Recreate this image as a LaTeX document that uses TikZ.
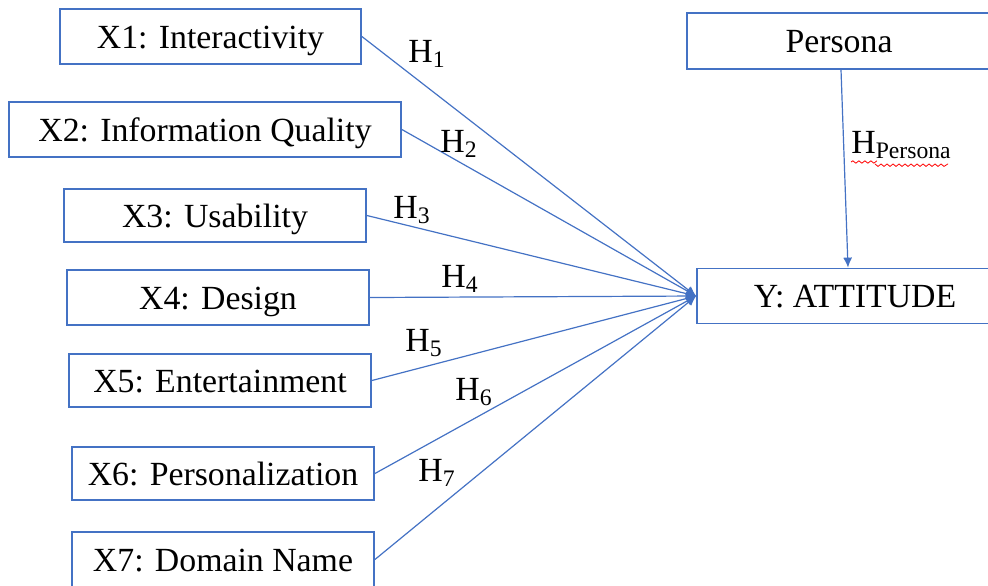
\documentclass[tikz,border=0pt]{standalone}
\usepackage{fontspec}
\setmainfont{Liberation Serif}
\newfontfamily\timesfont{Liberation Serif}
\usetikzlibrary{arrows.meta,decorations.pathmorphing}
\definecolor{officeblue}{RGB}{68,114,196}
\tikzset{
    box/.style={draw=officeblue, line width=0.9pt, rectangle, inner sep=0pt, text height=11.6pt, text depth=0pt, font=\timesfont\fontsize{16.9}{20}\selectfont},
    link/.style={draw=officeblue, line width=0.6pt, -{Latex[length=5pt,width=4.5pt]}},
    hyp/.style={anchor=base west, inner sep=0pt, font=\timesfont\fontsize{16.9}{20}\selectfont}
}

\begin{document}
\begin{tikzpicture}[x=0.5pt,y=-0.5pt]
            \useasboundingbox (0,0) rectangle (988,585);
            % independent variables
            \node[box, minimum width=150.5pt, minimum height=27.5pt] (x1) at (210.5,36.5) {X1: Interactivity};
            \node[box, minimum width=196pt, minimum height=27.5pt] (x2) at (205,129.5) {X2: Information Quality};
            \node[box, minimum width=151pt, minimum height=26.5pt] (x3) at (215,215.5) {X3: Usability};
            \node[box, minimum width=151pt, minimum height=27.5pt] (x4) at (218,297.5) {X4: Design};
            \node[box, minimum width=151pt, minimum height=26.5pt] (x5) at (220,380.5) {X5: Entertainment};
            \node[box, minimum width=151pt, minimum height=26.5pt] (x6) at (223,473.5) {X6: Personalization};
            \node[box, minimum width=151pt, minimum height=27.5pt] (x7) at (223,559.5) {X7: Domain Name};
            % moderator and outcome
            \node[box, minimum width=152pt, minimum height=28pt] (persona) at (839,41) {Persona};
            \node[box, minimum width=158pt, minimum height=27.5pt] (att) at (855,296) {Y: ATTITUDE};
            % paths
            \foreach \i in {1,...,7}
                \draw[link] (x\i.east) -- (att.west);
            \draw[link] ([xshift=1pt]persona.south) -- ([xshift=-3.5pt]att.north);
            % hypothesis labels
            \node[hyp] (h1) at (408,62) {H\textsubscript{1}};
            \node[hyp] (h2) at (440,152) {H\textsubscript{2}};
            \node[hyp] (h3) at (393,218) {H\textsubscript{3}};
            \node[hyp] (h4) at (441,287) {H\textsubscript{4}};
            \node[hyp] (h5) at (405,351) {H\textsubscript{5}};
            \node[hyp] (h6) at (455,400) {H\textsubscript{6}};
            \node[hyp] (h7) at (418,481) {H\textsubscript{7}};
            \node[hyp] (hp) at (851,153) {H\textsubscript{Persona}};
            \draw[red, line width=0.4pt, decorate, decoration={snake, amplitude=0.6pt, segment length=3pt}] (851,162) -- (875,162) (875,164) -- (948,164);
        \end{tikzpicture}
\end{document}
